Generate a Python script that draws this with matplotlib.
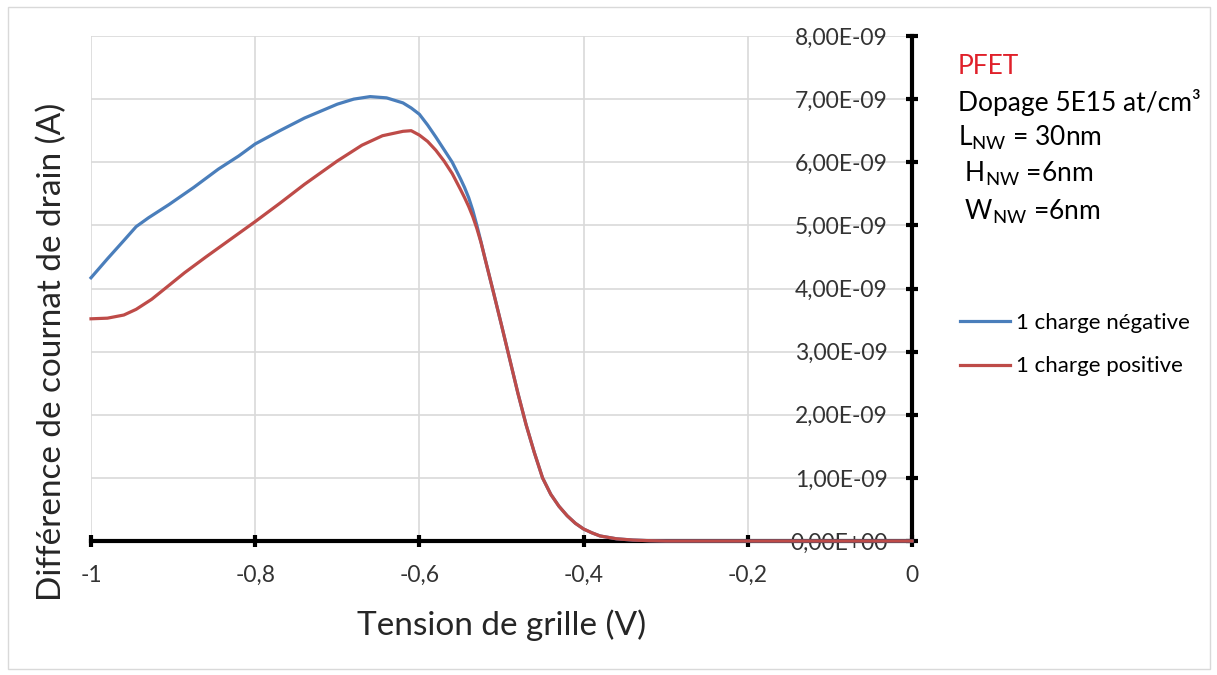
import matplotlib
matplotlib.use('Agg')
import matplotlib.pyplot as plt
from matplotlib.patches import Rectangle

plt.rcParams['font.family'] = ['Lato', 'DejaVu Sans']
plt.rcParams['mathtext.fontset'] = 'custom'
plt.rcParams['mathtext.rm'] = 'Lato'

# gate voltage (V) and drain current difference (x1e-9 A)
vg_neg = [-1.00, -0.98, -0.96, -0.945, -0.93, -0.905, -0.875, -0.845, -0.82, -0.80,
          -0.77, -0.74, -0.70, -0.68, -0.66, -0.64, -0.62, -0.61, -0.60, -0.59,
          -0.58, -0.57, -0.56, -0.55, -0.545, -0.54, -0.535, -0.53, -0.525, -0.52,
          -0.51, -0.50, -0.49, -0.48, -0.47, -0.46, -0.45, -0.44, -0.43, -0.42,
          -0.41, -0.40, -0.39, -0.38, -0.36, -0.34, -0.32, -0.30, -0.20, -0.10,
          0.00]
id_neg = [4.17, 4.47, 4.76, 4.98, 5.12, 5.33, 5.60, 5.89, 6.10, 6.29,
          6.50, 6.70, 6.92, 7.00, 7.04, 7.02, 6.94, 6.86, 6.76, 6.59,
          6.40, 6.20, 6.00, 5.74, 5.60, 5.44, 5.24, 5.00, 4.74, 4.47,
          3.95, 3.42, 2.88, 2.34, 1.84, 1.40, 1.00, 0.74, 0.55, 0.40,
          0.28, 0.19, 0.13, 0.08, 0.035, 0.015, 0.005, 0.0, 0.0, 0.0,
          0.0]

vg_pos = [-1.00, -0.98, -0.96, -0.945, -0.926, -0.905, -0.886, -0.86, -0.83, -0.80,
          -0.77, -0.74, -0.70, -0.67, -0.645, -0.62, -0.61, -0.60, -0.59, -0.58,
          -0.57, -0.56, -0.55, -0.545, -0.54, -0.535, -0.53, -0.525, -0.52, -0.51,
          -0.50, -0.49, -0.48, -0.47, -0.46, -0.45, -0.44, -0.43, -0.42, -0.41,
          -0.40, -0.39, -0.38, -0.36, -0.34, -0.32, -0.30, -0.20, -0.10, 0.00]
id_pos = [3.52, 3.53, 3.58, 3.67, 3.83, 4.05, 4.25, 4.50, 4.78, 5.06,
          5.35, 5.65, 6.02, 6.27, 6.42, 6.49, 6.50, 6.43, 6.33, 6.19,
          6.02, 5.82, 5.57, 5.44, 5.30, 5.14, 4.95, 4.73, 4.47, 3.95,
          3.42, 2.88, 2.34, 1.84, 1.40, 1.00, 0.74, 0.55, 0.40, 0.28,
          0.19, 0.13, 0.08, 0.035, 0.015, 0.005, 0.0, 0.0, 0.0, 0.0]

x_ticks = [-1, -0.8, -0.6, -0.4, -0.2, 0]
x_labels = ['-1', '-0,8', '-0,6', '-0,4', '-0,2', '0']
y_ticks = [0, 1, 2, 3, 4, 5, 6, 7, 8]
y_labels = ['0,00E+00', '1,00E-09', '2,00E-09', '3,00E-09', '4,00E-09',
            '5,00E-09', '6,00E-09', '7,00E-09', '8,00E-09']

fig = plt.figure(figsize=(12.17, 6.75), dpi=100)
fig.patches.append(Rectangle((8 / 1217, 6 / 675), 1202 / 1217, 662 / 675,
                             transform=fig.transFigure, fill=False,
                             edgecolor='#d9d9d9', lw=1))
ax = fig.add_axes([91 / 1217, 1 - 541 / 675, 821 / 1217, 505 / 675])

ax.plot(vg_neg, [v * 1e-9 for v in id_neg], color='#4a7ebb', lw=2.3,
        label='1 charge négative', zorder=3, clip_on=False)
ax.plot(vg_pos, [v * 1e-9 for v in id_pos], color='#be4b48', lw=2.3,
        label='1 charge positive', zorder=4, clip_on=False)

ax.set_xlim(-1, 0)
ax.set_ylim(0, 8e-9)

for s in ['left', 'top']:
    ax.spines[s].set_visible(False)
for s in ['bottom', 'right']:
    ax.spines[s].set_linewidth(3)
    ax.spines[s].set_color('black')
    ax.spines[s].set_zorder(2)

ax.set_xticks(x_ticks)
ax.set_xticklabels(x_labels)
ax.yaxis.tick_right()
ax.set_yticks([v * 1e-9 for v in y_ticks])
ax.set_yticklabels(y_labels)
for lab in ax.get_yticklabels():
    lab.set_horizontalalignment('right')
ax.tick_params(axis='x', direction='inout', length=9, width=3, pad=13,
               labelsize=16.5, colors='black', labelcolor='#333333')
ax.tick_params(axis='y', direction='inout', length=9, width=3, pad=-22,
               labelsize=16.5, colors='black', labelcolor='#333333')

ax.grid(True, color='#d9d9d9', lw=1.2, zorder=0)
ax.set_axisbelow(True)

fig.text(502 / 1217, 1 - 625 / 675, 'Tension de grille (V)', fontsize=24,
         ha='center', va='center', color='#262626')
fig.text(52 / 1217, 1 - 352 / 675, 'Différence de cournat de drain (A)',
         fontsize=24, ha='center', va='center', rotation=90, color='#262626')

tx = 958 / 1217
fig.text(tx, 1 - 67 / 675, 'PFET', fontsize=19, color='#e0202a', va='center')
fig.text(tx, 1 - 103 / 675, 'Dopage 5E15 at/cm³', fontsize=19, va='center')
fig.text(tx, 1 - 138 / 675, r'L$_{\mathrm{NW}}$ = 30nm', fontsize=19, va='center')
fig.text(tx, 1 - 174 / 675, r' H$_{\mathrm{NW}}$ =6nm', fontsize=19, va='center')
fig.text(tx, 1 - 212 / 675, r' W$_{\mathrm{NW}}$ =6nm', fontsize=19, va='center')

fig.legend(loc='upper left', bbox_to_anchor=(940 / 1217, 1 - 293 / 675),
           frameon=False, fontsize=16, handlelength=2.25, handletextpad=0.25,
           labelspacing=1.05)

fig.savefig('out.png', dpi=100)
